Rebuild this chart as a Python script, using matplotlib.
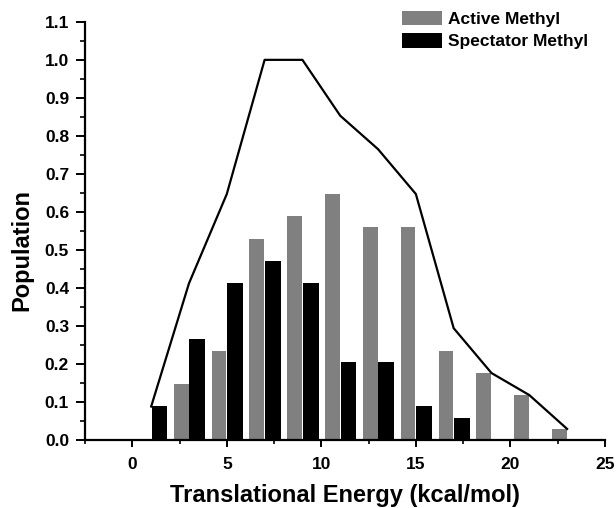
import matplotlib
matplotlib.use("Agg")
import matplotlib.pyplot as plt
from matplotlib.ticker import MultipleLocator
import numpy as np

plt.rcParams['font.family'] = ['Liberation Sans', 'DejaVu Sans']
plt.rcParams['font.weight'] = 'bold'

#Bin centres (kcal/mol) and populations
energy = [1, 3, 5, 7, 9, 11, 13, 15, 17, 19, 21, 23]
active = [0.0, 0.147, 0.235, 0.529, 0.588, 0.647, 0.559, 0.559, 0.235, 0.176, 0.118, 0.029]
spectator = [0.088, 0.265, 0.412, 0.471, 0.412, 0.206, 0.206, 0.088, 0.059, 0.0, 0.0, 0.0]
total = [0.088, 0.412, 0.647, 1.0, 1.0, 0.853, 0.765, 0.647, 0.294, 0.176, 0.118, 0.029]

x = np.array(energy, dtype=float)

fig = plt.figure(figsize=(6.16, 5.08), dpi=100)
ax = fig.add_axes([0.138, 0.134, 0.844, 0.823])

ax.bar(x - 0.41, active, width=0.78, color='#808080', label='Active Methyl')
ax.bar(x + 0.44, spectator, width=0.84, color='black', label='Spectator Methyl')
ax.plot(x, total, color='black', lw=1.6)

ax.set_xlim(-2.5, 25)
ax.set_ylim(0, 1.1)
ax.xaxis.set_major_locator(MultipleLocator(5))
ax.xaxis.set_minor_locator(MultipleLocator(2.5))
ax.yaxis.set_major_locator(MultipleLocator(0.1))
ax.yaxis.set_minor_locator(MultipleLocator(0.05))
ax.yaxis.set_major_formatter(plt.FuncFormatter(lambda v, p: f"{v:.1f}"))

for s in ['top', 'right']:
    ax.spines[s].set_visible(False)
for s in ['left', 'bottom']:
    ax.spines[s].set_linewidth(1.6)

ax.tick_params(axis='y', which='major', direction='out', length=6.5, width=1.4, labelsize=12.5, pad=5)
ax.tick_params(axis='y', which='minor', direction='out', length=3.5, width=1.2)
ax.tick_params(axis='x', which='major', direction='out', length=5, width=1.4, labelsize=12.5, pad=7)
ax.tick_params(axis='x', which='minor', direction='out', length=3, width=1.2)

ax.set_xlabel('Translational Energy (kcal/mol)', fontsize=17, fontweight='bold', labelpad=9)
ax.set_ylabel('Population', fontsize=17, fontweight='bold', labelpad=6)
ax.yaxis.set_label_coords(-0.1, 0.455)

ax.legend(loc='upper left', bbox_to_anchor=(402 / 616, 1 - 11 / 508), bbox_transform=fig.transFigure,
          frameon=False, fontsize=12.5, handlelength=2.3, handleheight=0.9,
          handletextpad=0.35, labelspacing=0.35, borderpad=0, borderaxespad=0)

fig.savefig('out.png', dpi=100)
